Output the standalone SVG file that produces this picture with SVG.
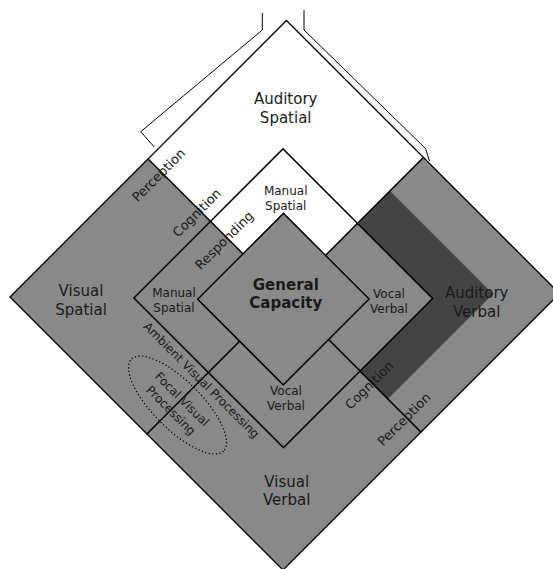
<svg xmlns="http://www.w3.org/2000/svg" width="553" height="569" viewBox="0 0 553 569">
<style>
.g{fill:#898989}
.w{fill:#ffffff}
.ol{fill:none;stroke:#000;stroke-width:1.3;stroke-linejoin:miter}
.t{font-family:"DejaVu Sans",sans-serif;fill:#1a1a1a;text-anchor:middle}
.big{font-size:15px}
.sm{font-size:12px}
.rot{font-size:13px}
.b{font-weight:bold}
.br{fill:none;stroke:#000;stroke-width:1}
</style>
<rect width="553" height="569" fill="#fff"/>
<g id="auditory-spatial">
<polygon class="w" points="286.5,20.5 423.5,157.5 357.5,223.5 283,149 210.5,221.5 148,159"/>
<polygon class="ol" points="286.5,20.5 423.5,157.5 357.5,223.5 283,149 210.5,221.5 148,159"/>
<text class="t big" x="285.7" y="104">Auditory</text>
<text class="t big" x="285.7" y="123">Spatial</text>
</g>
<g id="visual-spatial">
<polygon class="g" points="148,159 210.5,221.5 134,298 208.5,372.5 147,434 10,297"/>
<polygon class="ol" points="148,159 210.5,221.5 134,298 208.5,372.5 147,434 10,297"/>
<text class="t big" x="81" y="295.7">Visual</text>
<text class="t big" x="81" y="314.5">Spatial</text>
</g>
<g id="visual-verbal">
<polygon class="g" points="147,434 208.5,372.5 283.5,447.5 360,371 421,432 283,570"/>
<polygon class="ol" points="147,434 208.5,372.5 283.5,447.5 360,371 421,432 283,570"/>
<text class="t big" x="286.7" y="486.5">Visual</text>
<text class="t big" x="286.7" y="505">Verbal</text>
</g>
<g id="auditory-verbal">
<polygon class="g" points="423.5,157.5 559.5,293.5 421,432 360,371 432.5,298.5 357.5,223.5"/>
<polygon fill="#444444" points="357.5,223.5 390,191 493,294 388,399 360,371 432.5,298.5"/>
<polygon class="ol" points="423.5,157.5 559.5,293.5 421,432 360,371 432.5,298.5 357.5,223.5"/>
<text class="t big" x="476.7" y="298">Auditory</text>
<text class="t big" x="476.7" y="317">Verbal</text>
</g>
<g id="manual-spatial-top">
<polygon class="w" points="283,149 357.5,223.5 325.5,255.5 283.5,213.5 243,254 210.5,221.5"/>
<polygon class="ol" points="283,149 357.5,223.5 325.5,255.5 283.5,213.5 243,254 210.5,221.5"/>
<text class="t sm" x="285.7" y="194.5">Manual</text>
<text class="t sm" x="285.7" y="209.5">Spatial</text>
</g>
<g id="manual-spatial-left">
<polygon class="g" points="210.5,221.5 243,254 197.75,299.25 239.75,341.25 208.5,372.5 134,298"/>
<polygon class="ol" points="210.5,221.5 243,254 197.75,299.25 239.75,341.25 208.5,372.5 134,298"/>
<text class="t sm" x="174" y="296.7">Manual</text>
<text class="t sm" x="174" y="311.7">Spatial</text>
</g>
<g id="vocal-verbal-right">
<polygon class="g" points="357.5,223.5 432.5,298.5 360,371 328.5,339.5 369,299 325.5,255.5"/>
<polygon class="ol" points="357.5,223.5 432.5,298.5 360,371 328.5,339.5 369,299 325.5,255.5"/>
<text class="t sm" x="389" y="298.3">Vocal</text>
<text class="t sm" x="389" y="313.3">Verbal</text>
</g>
<g id="vocal-verbal-bottom">
<polygon class="g" points="208.5,372.5 239.75,341.25 283.25,384.75 328.5,339.5 360,371 283.5,447.5"/>
<polygon class="ol" points="208.5,372.5 239.75,341.25 283.25,384.75 328.5,339.5 360,371 283.5,447.5"/>
<text class="t sm" x="286" y="395">Vocal</text>
<text class="t sm" x="286" y="410">Verbal</text>
</g>
<g id="general-capacity">
<polygon class="g" points="283.5,213.5 369,299 283.25,384.75 197.75,299.25"/>
<polygon class="ol" points="283.5,213.5 369,299 283.25,384.75 197.75,299.25"/>
<text class="t big b" x="285.8" y="289.5">General</text>
<text class="t big b" x="285.8" y="308">Capacity</text>
</g>
<g id="stage-labels">
<text class="t rot" transform="translate(161.8,178.3) rotate(-45)">Perception</text>
<text class="t rot" transform="translate(200,216) rotate(-45)">Cognition</text>
<text class="t rot" transform="translate(227.5,243.5) rotate(-45)">Responding</text>
<text class="t rot" transform="translate(372.5,388.3) rotate(-45)">Cognition</text>
<text class="t rot" transform="translate(407.2,422.5) rotate(-45)">Perception</text>
<text class="t sm" transform="translate(198.6,383.1) rotate(45)">Ambient Visual Processing</text>
</g>
<g id="focal-visual-processing">
<ellipse cx="177.5" cy="405" rx="65" ry="24" transform="rotate(45 177.5 405)" fill="none" stroke="#000" stroke-width="1.3" stroke-dasharray="1.2 2.4"/>
<text class="t sm" transform="translate(173.6,407.7) rotate(45)"><tspan x="0" y="-7.9">Focal Visual</tspan><tspan x="0" y="7.9">Processing</tspan></text>
</g>
<g id="connectors">
<polyline class="br" points="262.3,13 262.3,30 140.7,131.7 154.3,147"/>
<polyline class="br" points="304,10 304,30 425.5,148.5 429.5,161"/>
</g>
</svg>
